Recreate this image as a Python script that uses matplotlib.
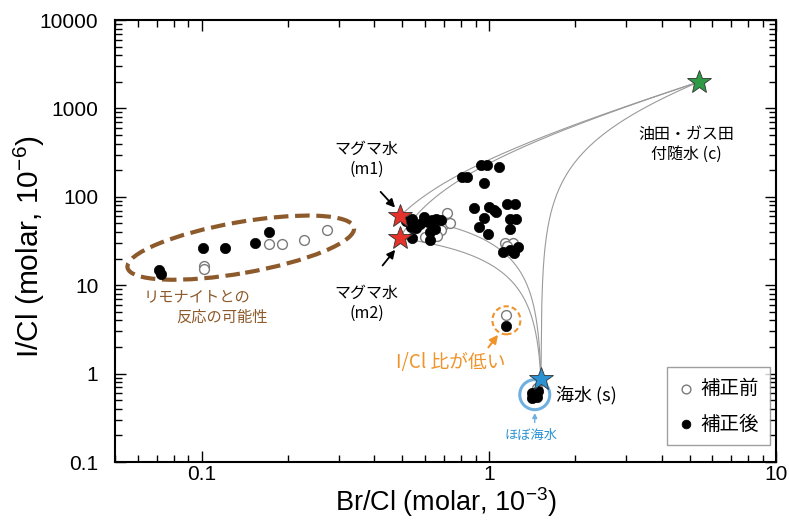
import matplotlib
matplotlib.use('agg')
from matplotlib import pyplot as plt
from matplotlib.patches import Ellipse, Circle
from matplotlib.transforms import ScaledTranslation
import numpy as np

plt.rcParams['font.family'] = ['Liberation Sans', 'Noto Sans CJK JP', 'DejaVu Sans']
plt.rcParams['mathtext.fontset'] = 'custom'
plt.rcParams['mathtext.rm'] = 'Liberation Sans'
plt.rcParams['mathtext.it'] = 'Liberation Sans:italic'
plt.rcParams['mathtext.bf'] = 'Liberation Sans:bold'
JP = ['Noto Sans CJK JP', 'DejaVu Sans']

# end-members (Br/Cl x1e-3, I/Cl x1e-6)
m1 = (0.49, 60.0)
m2 = (0.49, 34.0)
sw = (1.52, 0.86)
oil = (5.4, 2000.0)

# samples after correction (filled)
after_br = [0.071, 0.072, 0.101, 0.121, 0.153, 0.172,
            0.805, 0.838, 0.938, 0.984, 1.083, 0.961,
            0.887, 1.000, 1.040, 1.058, 1.160, 1.232, 0.961, 1.183, 1.240, 0.923, 0.992, 1.190,
            1.118, 1.183, 1.260, 1.220,
            0.514, 0.535, 0.557, 0.540, 0.575, 0.594, 0.614, 0.634, 0.654, 0.681, 0.649, 0.624,
            0.540, 0.624,
            1.146,
            1.420, 1.470, 1.410, 1.480]
after_i = [15.0, 13.5, 26.4, 26.4, 30.1, 40.1,
           169, 166, 231, 231, 220, 145,
           75.5, 77.5, 71.6, 68.0, 84.0, 84.0, 58.0, 56.6, 56.6, 46.0, 38.3, 43.6,
           24.0, 25.3, 27.3, 23.3,
           53.6, 46.0, 44.8, 56.6, 49.7, 59.7, 52.3, 55.2, 56.6, 55.2, 43.6, 40.5,
           34.5, 32.8,
           3.49,
           0.61, 0.55, 0.535, 0.64]

# samples before correction (open)
before_br = [0.102, 0.102, 0.172, 0.190, 0.227, 0.274,
             1.137, 1.210, 1.160,
             0.714, 0.692, 0.681, 0.600, 0.659, 0.732,
             1.146, 1.470]
before_i = [16.7, 15.3, 29.6, 29.6, 32.2, 42.6,
            30.3, 30.3, 28.0,
            66.0, 48.5, 42.6, 35.4, 36.3, 51.0,
            4.65, 0.68]

x_ticks = [0.1, 1, 10]
x_labels = ['0.1', '1', '10']
y_ticks = [0.1, 1, 10, 100, 1000, 10000]
y_labels = ['0.1', '1', '10', '100', '1000', '10000']

fig = plt.figure(figsize=(7.89, 5.24), dpi=100)
ax = fig.add_axes([0.1458, 0.1183, 0.8377, 0.8435])
ax.set_xscale('log')
ax.set_yscale('log')
ax.set_xlim(0.05, 10)
ax.set_ylim(0.1, 10000)

# mixing lines: ratios share Cl, so mixing is linear in ratio space
w = np.linspace(0, 1, 400)
for a, b in [(m1, oil), (m2, oil), (m1, sw), (m2, sw), (sw, oil)]:
    ax.plot(a[0] + w * (b[0] - a[0]), a[1] + w * (b[1] - a[1]),
            color='#9a9a9a', lw=0.8, zorder=1)

ax.scatter(before_br, before_i, s=50, facecolor='white', edgecolor='#7a7a7a',
           lw=1.0, zorder=3, label='補正前')
ax.scatter(after_br, after_i, s=55, facecolor='black', edgecolor='black',
           lw=0.5, zorder=4, label='補正後')

star = dict(marker='*', ms=18, mec='#333333', mew=0.6, zorder=6, ls='none')
ax.plot([m1[0], m2[0]], [m1[1], m2[1]], mfc='#e5322b', **star)
ax.plot([sw[0]], [sw[1]], mfc='#2a92d3', **star)
ax.plot([oil[0]], [oil[1]], mfc='#2f9a45', **star)

# shapes sized in inches, anchored at data points
def anchored(x, y):
    return fig.dpi_scale_trans + ScaledTranslation(x, y, ax.transData)

ax.add_patch(Ellipse((0, 0), 2.30, 0.51, angle=10, transform=anchored(0.137, 26.6),
                     fill=False, ec='#8d5a2b', lw=3, ls=(0, (3.5, 1.6)), zorder=2))
ax.add_patch(Circle((0, 0), 0.14, transform=anchored(1.152, 4.01),
                    fill=False, ec='#f0932b', lw=1.5, ls=(0, (2.5, 1.5)), zorder=2))
ax.add_patch(Circle((0, 0), 0.15, transform=anchored(1.446, 0.578),
                    fill=False, ec='#6fb0e0', lw=2.2, zorder=2))

# labels
ax.text(0.376, 264, 'マグマ水\n(m1)', family=JP, fontsize=11.5, ha='center', va='center',
        linespacing=1.2)
ax.annotate('', xy=(0.479, 71.6), xytext=(0.414, 120),
            arrowprops=dict(arrowstyle='-|>', color='black', lw=1.3, mutation_scale=12))
ax.text(0.376, 6.2, 'マグマ水\n(m2)', family=JP, fontsize=11.5, ha='center', va='center',
        linespacing=1.2)
ax.annotate('', xy=(0.479, 26.6), xytext=(0.421, 15.8),
            arrowprops=dict(arrowstyle='-|>', color='black', lw=1.3, mutation_scale=12))

ax.text(0.0961, 7.43, 'リモナイトとの', family=JP, fontsize=11, color='#8d5a2b',
        ha='center', va='center')
ax.text(0.118, 4.30, '反応の可能性', family=JP, fontsize=11, color='#8d5a2b',
        ha='center', va='center')

ax.text(0.738, 1.33, 'I/Cl 比が低い', family=JP, fontsize=13.5, color='#f0932b',
        ha='center', va='center')
ax.annotate('', xy=(1.092, 2.91), xytext=(0.984, 1.87),
            arrowprops=dict(arrowstyle='-|>', color='#f0932b', lw=1.5, mutation_scale=12))

ax.text(1.72, 0.578, '海水 (s)', family=JP, fontsize=13, ha='left', va='center')
ax.text(1.40, 0.199, 'ほぼ海水', family=JP, fontsize=9.5, color='#2a92d3',
        ha='center', va='center')
ax.annotate('', xy=(1.446, 0.385), xytext=(1.446, 0.26),
            arrowprops=dict(arrowstyle='-|>', color='#6fb0e0', lw=1.0, mutation_scale=7))

ax.text(4.88, 395, '油田・ガス田\n付随水 (c)', family=JP, fontsize=11.5, ha='center',
        va='center', linespacing=1.2)

leg = ax.legend(loc='lower right', bbox_to_anchor=(0.991, 0.038), borderaxespad=0,
                prop={'family': JP, 'size': 14},
                frameon=True, fancybox=False, edgecolor='#888888', handletextpad=0.3,
                borderpad=0.55, labelspacing=0.75, handlelength=0.9, scatterpoints=1)
leg.get_frame().set_linewidth(1.0)
for h in leg.legend_handles:
    h.set_sizes([40])

ax.set_xticks(x_ticks)
ax.set_xticklabels(x_labels)
ax.set_yticks(y_ticks)
ax.set_yticklabels(y_labels)
ax.xaxis.set_minor_formatter(matplotlib.ticker.NullFormatter())
ax.yaxis.set_minor_formatter(matplotlib.ticker.NullFormatter())
ax.tick_params(which='both', direction='in', top=True, right=True, labelsize=15, width=1.0)
ax.tick_params(which='major', length=8)
ax.tick_params(axis='x', which='major', pad=2)
ax.tick_params(axis='y', which='major', pad=12)
ax.tick_params(which='minor', length=5)
for s in ax.spines.values():
    s.set_linewidth(1.5)

ax.set_xlabel('Br/Cl (molar, 10$^{-3}$)', fontsize=19.5)
ax.set_ylabel('I/Cl (molar, 10$^{-6}$)', fontsize=21.5)
ax.xaxis.set_label_coords(0.5, -0.09)
ax.yaxis.set_label_coords(-0.129, 0.488)
ax.xaxis.label.set_va('center')
ax.yaxis.label.set_va('center')

plt.savefig('out.png', dpi=100)
plt.close()
